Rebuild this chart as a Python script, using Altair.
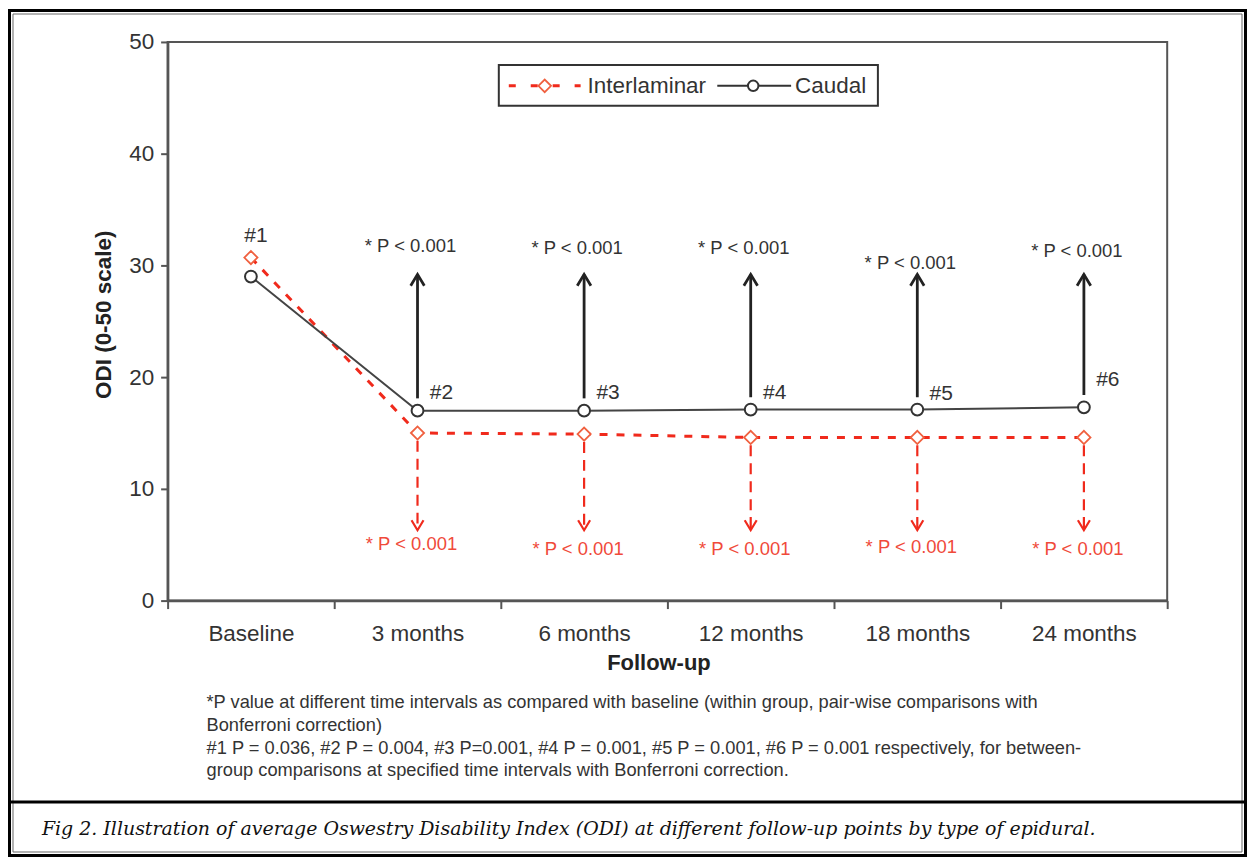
import altair as alt
import pandas as pd

# ---------------- data ----------------
categories = ["Baseline", "3 months", "6 months", "12 months", "18 months", "24 months"]
caudal = [29.0, 17.0, 17.0, 17.1, 17.1, 17.3]
interlaminar = [30.7, 15.0, 14.9, 14.6, 14.6, 14.6]

hash_labels = ["#1", "#2", "#3", "#4", "#5", "#6"]
hash_y = [32.6, 18.6, 18.6, 18.6, 18.5, 19.7]

arrow_categories = ["3 months", "6 months", "12 months", "18 months", "24 months"]
black_arrow_bottom = [18.1, 18.1, 18.2, 18.2, 18.4]
black_arrow_top = [29.2, 29.2, 29.2, 29.2, 29.2]
black_p_y = [31.7, 31.6, 31.6, 30.2, 31.3]
red_arrow_top = [14.3, 14.2, 13.9, 13.9, 13.9]
red_arrow_tip = [6.3, 6.3, 6.3, 6.3, 6.3]
red_p_y = [5.1, 4.6, 4.6, 4.8, 4.6]
p_labels = ["* P < 0.001", "* P < 0.001", "* P < 0.001", "* P < 0.001", "* P < 0.001"]

y_ticks = [0, 10, 20, 30, 40, 50]

footnote_lines = [
    "*P value at different time intervals as compared with baseline (within group, pair-wise comparisons with",
    "Bonferroni correction)",
    "#1 P = 0.036, #2 P = 0.004, #3 P=0.001, #4 P = 0.001, #5 P = 0.001, #6 P = 0.001 respectively, for between-",
    "group comparisons at specified time intervals with Bonferroni correction.",
]
caption = "Fig 2. Illustration of average Oswestry Disability Index (ODI) at different follow-up points by type of epidural."

# ---------------- tables ----------------
main_df = pd.DataFrame({"cat": categories, "caudal": caudal, "inter": interlaminar,
                        "hash": hash_labels, "hash_y": hash_y})
arr_df = pd.DataFrame({"cat": arrow_categories, "b_bot": black_arrow_bottom, "b_top": black_arrow_top,
                       "b_p": black_p_y, "r_top": red_arrow_top, "r_tip": red_arrow_tip,
                       "r_p": red_p_y, "p": p_labels})
one = pd.DataFrame({"k": [0]})

RED = "#f02a1c"
RED_TXT = "#f04a3a"
DIAM = "#f0603f"
DARK = "#333333"
FONT = "Liberation Sans"

xscale = alt.Scale(type="band", domain=categories, paddingInner=0, paddingOuter=0)
yscale = alt.Scale(domain=[0, 50], nice=False, zero=True)

xaxis = alt.Axis(title="Follow-up", tickBand="extent", labelAngle=0, labelFontSize=22.5, labelFont=FONT,
                 labelColor=DARK, labelPadding=14, tickSize=8, tickColor="#555", tickWidth=2,
                 domainColor="#555", domainWidth=2.5, titleFontSize=22, titleFont=FONT,
                 titleFontWeight="bold", titleColor="#222", titleX=492, titleY=62,
                 titleBaseline="middle", titleAlign="center", grid=False)
yaxis = alt.Axis(title="ODI (0-50 scale)", values=y_ticks, grid=False, labelFontSize=22.5, labelFont=FONT,
                 labelColor=DARK, labelPadding=7, tickSize=7, tickColor="#555", tickWidth=2,
                 domainColor="#555", domainWidth=2.5, titleFontSize=22.5, titleFont=FONT,
                 titleFontWeight="bold", titleColor="#222", titleX=-64, titleY=273,
                 titleAlign="center", titleBaseline="middle", titleAngle=-90)


def X():
    return alt.X("cat:N", scale=xscale, sort=categories, bandPosition=0.5, axis=xaxis)


def Y(field):
    return alt.Y(field, type="quantitative", scale=yscale, axis=yaxis)


# ---------------- frame ----------------
frame_outer = alt.Chart(one).mark_rect(fillOpacity=0, stroke="black", strokeWidth=3).encode(
    x=alt.value(-158.5), x2=alt.value(1080.5), y=alt.value(-31.5), y2=alt.value(815.5))
frame_inner = alt.Chart(one).mark_rect(fillOpacity=0, stroke="#666", strokeWidth=1).encode(
    x=alt.value(-155), x2=alt.value(1077), y=alt.value(-28), y2=alt.value(812))
divider = alt.Chart(one).mark_rule(color="black", strokeWidth=3).encode(
    x=alt.value(-158.5), x2=alt.value(1080.5), y=alt.value(762))

# ---------------- series ----------------
inter_line = alt.Chart(main_df).mark_line(color=RED, strokeWidth=3, strokeDash=[8, 9]).encode(
    x=X(), y=Y("inter"))
caudal_line = alt.Chart(main_df).mark_line(color="#444", strokeWidth=2).encode(
    x=X(), y=Y("caudal"))

black_arrows = alt.Chart(arr_df).mark_rule(color="#222", strokeWidth=2.8).encode(
    x=X(), y=Y("b_bot"), y2=alt.Y2("b_top"))
black_heads = alt.Chart(arr_df).mark_point(shape="M-0.6,1L0,0L0.6,1", filled=False, color="#222",
                                           strokeWidth=2.8, size=520, opacity=1).encode(
    x=X(), y=Y("b_top"))
red_arrows = alt.Chart(arr_df).mark_rule(color=RED, strokeWidth=2.2, strokeDash=[11, 7]).encode(
    x=X(), y=Y("r_top"), y2=alt.Y2("r_tip"))
red_heads = alt.Chart(arr_df).mark_point(shape="M-0.6,-1L0,0L0.6,-1", filled=False, color=RED,
                                         strokeWidth=2.2, size=400, opacity=1).encode(
    x=X(), y=Y("r_tip"))

caudal_pts = alt.Chart(main_df).mark_point(shape="circle", filled=True, fill="white", stroke="#333",
                                           strokeWidth=2, size=140, opacity=1).encode(
    x=X(), y=Y("caudal"))
inter_pts = alt.Chart(main_df).mark_point(shape="diamond", filled=True, fill="white", stroke=DIAM,
                                          strokeWidth=1.8, size=175, opacity=1).encode(
    x=X(), y=Y("inter"))

black_p = alt.Chart(arr_df).mark_text(fontSize=18.5, font=FONT, color=DARK, dx=-7, baseline="middle").encode(
    x=X(), y=Y("b_p"), text="p:N")
red_p = alt.Chart(arr_df).mark_text(fontSize=18.5, font=FONT, color=RED_TXT, dx=-6, baseline="middle").encode(
    x=X(), y=Y("r_p"), text="p:N")

hash_first = alt.Chart(main_df.iloc[:1]).mark_text(fontSize=21, font=FONT, color=DARK, dx=5,
                                                  baseline="middle").encode(
    x=X(), y=Y("hash_y"), text="hash:N")
hash_rest = alt.Chart(main_df.iloc[1:]).mark_text(fontSize=21, font=FONT, color=DARK, dx=24,
                                                 baseline="middle").encode(
    x=X(), y=Y("hash_y"), text="hash:N")

# ---------------- legend ----------------
leg_box = alt.Chart(one).mark_rect(fill="white", stroke="#333", strokeWidth=2).encode(
    x=alt.value(332), x2=alt.value(712), y=alt.value(23), y2=alt.value(64))
leg_red = alt.Chart(one).mark_rule(color=RED, strokeWidth=3, strokeDash=[7, 15]).encode(
    x=alt.value(342), x2=alt.value(414), y=alt.value(44))
leg_diam = alt.Chart(one).mark_point(shape="diamond", filled=True, fill="white", stroke=DIAM,
                                     strokeWidth=1.8, size=160, opacity=1).encode(
    x=alt.value(378), y=alt.value(44))
leg_t1 = alt.Chart(one).mark_text(text="Interlaminar", align="left", baseline="middle", fontSize=22.5,
                                  font=FONT, color=DARK).encode(x=alt.value(421), y=alt.value(44))
leg_black = alt.Chart(one).mark_rule(color="#333", strokeWidth=2).encode(
    x=alt.value(551), x2=alt.value(625), y=alt.value(44))
leg_circ = alt.Chart(one).mark_point(shape="circle", filled=True, fill="white", stroke="#333",
                                     strokeWidth=2, size=110, opacity=1).encode(
    x=alt.value(587), y=alt.value(44))
leg_t2 = alt.Chart(one).mark_text(text="Caudal", align="left", baseline="middle", fontSize=22.5,
                                  font=FONT, color=DARK).encode(x=alt.value(629), y=alt.value(44))

# ---------------- notes ----------------
footnote = alt.Chart(one).mark_text(text="\n".join(footnote_lines), lineBreak="\n", lineHeight=22.7,
                                    align="left", baseline="middle", fontSize=18.3, font=FONT,
                                    color=DARK).encode(x=alt.value(39), y=alt.value(663))
cap = alt.Chart(one).mark_text(text=caption, align="left", baseline="middle", fontSize=19,
                               font="DejaVu Serif", fontStyle="italic", color="#111").encode(
    x=alt.value(-126), y=alt.value(789))

chart = alt.layer(
    inter_line, frame_outer, frame_inner, divider,
    caudal_line,
    black_arrows, black_heads, red_arrows, red_heads,
    caudal_pts, inter_pts,
    black_p, red_p, hash_first, hash_rest,
    leg_box, leg_red, leg_diam, leg_t1, leg_black, leg_circ, leg_t2,
    footnote, cap,
).properties(width=1002, height=560, padding=0, background="white").configure_view(
    stroke="#555", strokeWidth=2
)

chart.save("out.html", embed_options={"renderer": "svg", "actions": False})
